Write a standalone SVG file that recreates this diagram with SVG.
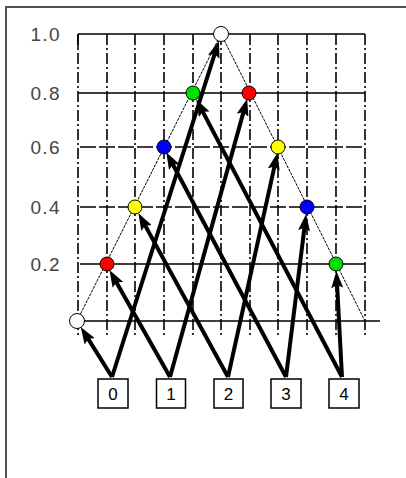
<svg xmlns="http://www.w3.org/2000/svg" width="406" height="478" viewBox="0 0 406 478">
<style>
.frame{stroke:#505050;stroke-width:2;fill:none}
.grid{stroke:#000;stroke-width:1.5;fill:none}
.vgrid{stroke:#000;stroke-width:1.6;stroke-dasharray:11 3 2 3;fill:none}
.hdash{stroke:#000;stroke-width:1.5;stroke-dasharray:16 3;fill:none}
.side{stroke:#000;stroke-width:1;stroke-dasharray:3 1;fill:none}
.axis{font-family:"Liberation Sans",Arial,sans-serif;font-size:19px;fill:#444;text-anchor:middle}
.box rect{fill:#fff;stroke:#000;stroke-width:1.5}
.box text{font-family:"Liberation Sans",Arial,sans-serif;font-size:17px;fill:#000;text-anchor:middle}
.node{stroke:#000;stroke-width:1}
.arrow{stroke:#000;stroke-width:4;fill:none;marker-end:url(#ah)}
</style>
<defs>
<marker id="ah" markerUnits="userSpaceOnUse" viewBox="0 0 17 12" markerWidth="17" markerHeight="12" refX="7" refY="6" orient="auto">
<path d="M0,0 L17,6 L0,12 L3,6 z" fill="#000"/>
</marker>
</defs>
<rect x="0" y="0" width="406" height="478" fill="#fff"/>
<path class="frame" d="M6,478 L6,7 L406,7"/>
<g id="grid">
<path class="grid" d="M78,34 L365,34 M78,93 L365,93 M80,264 L365,264 M84,321 L380,321"/>
<path class="hdash" d="M80,147 L365,147 M80,207 L365,207"/>
<path class="grid" d="M78,34 L78,48"/>
<path class="vgrid" d="M78,34 L78,336 M107,34 L107,336 M135,34 L135,336 M164,34 L164,336 M193,34 L193,336 M221,34 L221,336 M250,34 L250,336 M278,34 L278,336 M307,34 L307,336 M336,34 L336,336 M365,34 L365,336"/>
</g>
<g id="axis-labels">
<text class="axis" x="45" y="41" textLength="29" lengthAdjust="spacing">1.0</text>
<text class="axis" x="45" y="100" textLength="29" lengthAdjust="spacing">0.8</text>
<text class="axis" x="45" y="154" textLength="29" lengthAdjust="spacing">0.6</text>
<text class="axis" x="45" y="214" textLength="29" lengthAdjust="spacing">0.4</text>
<text class="axis" x="45" y="271" textLength="29" lengthAdjust="spacing">0.2</text>
</g>
<g id="sides">
<path class="side" d="M77,321 L221,34 L365,321"/>
</g>
<g id="connectors">
<path class="arrow" d="M112,377 L86.0,335.4"/>
<path class="arrow" d="M112,377 L215.9,50.2"/>
<path class="arrow" d="M170,377 L114.4,278.8"/>
<path class="arrow" d="M170,377 L244.5,108.4"/>
<path class="arrow" d="M228,377 L143.2,221.9"/>
<path class="arrow" d="M228,377 L275.3,162.6"/>
<path class="arrow" d="M286,377 L171.0,161.0"/>
<path class="arrow" d="M286,377 L304.9,223.9"/>
<path class="arrow" d="M342,377 L200.9,108.1"/>
<path class="arrow" d="M342,377 L336.9,281.0"/>
</g>
<g id="node-top"><circle class="node" cx="221" cy="34" r="7.5" fill="#fff"/></g>
<g id="node-l4"><circle class="node" cx="193" cy="93" r="7" fill="#00e000"/></g>
<g id="node-r1"><circle class="node" cx="249" cy="93" r="7" fill="#ff0000"/></g>
<g id="node-l3"><circle class="node" cx="164" cy="147" r="7" fill="#0000ff"/></g>
<g id="node-r2"><circle class="node" cx="278" cy="147" r="7" fill="#ffff00"/></g>
<g id="node-l2"><circle class="node" cx="135" cy="207" r="7" fill="#ffff00"/></g>
<g id="node-r3"><circle class="node" cx="307" cy="207" r="7" fill="#0000ff"/></g>
<g id="node-l1"><circle class="node" cx="107" cy="264" r="7" fill="#ff0000"/></g>
<g id="node-r4"><circle class="node" cx="336" cy="264" r="7" fill="#00e000"/></g>
<g id="node-l0"><circle class="node" cx="77" cy="321" r="7.5" fill="#fff"/></g>
<g id="box-0" class="box"><rect x="98" y="379" width="30" height="29"/><text x="113" y="399.5">0</text></g>
<g id="box-1" class="box"><rect x="156.5" y="379" width="29" height="29"/><text x="171" y="399.5">1</text></g>
<g id="box-2" class="box"><rect x="214" y="379" width="29" height="29"/><text x="228.5" y="399.5">2</text></g>
<g id="box-3" class="box"><rect x="271" y="379" width="30" height="29"/><text x="286" y="399.5">3</text></g>
<g id="box-4" class="box"><rect x="329" y="379" width="30" height="29"/><text x="344" y="399.5">4</text></g>
</svg>
